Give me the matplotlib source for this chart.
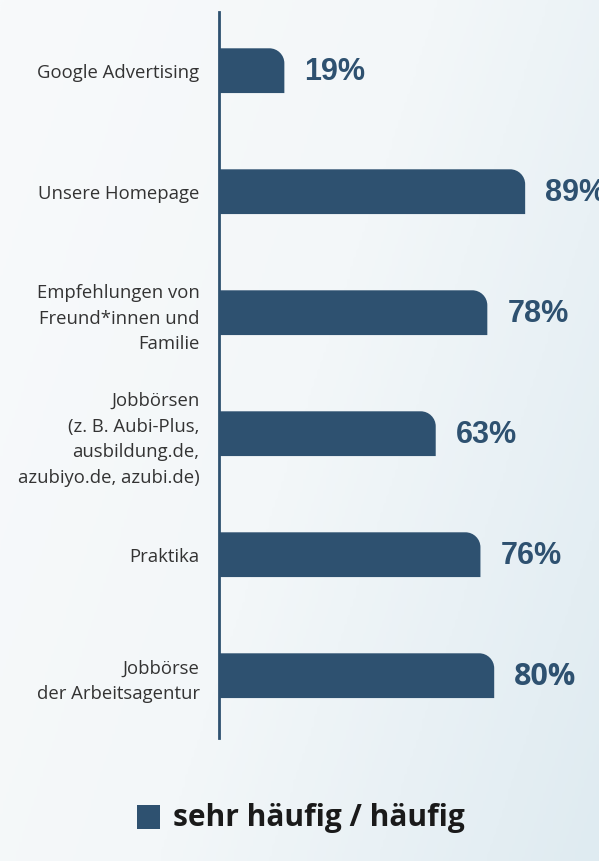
import numpy as np
import matplotlib.pyplot as plt
from matplotlib.path import Path
from matplotlib.patches import PathPatch
from matplotlib.colors import LinearSegmentedColormap

categories = [
    "Google Advertising",
    "Unsere Homepage",
    "Empfehlungen von\nFreund*innen und\nFamilie",
    "Jobbörsen\n(z. B. Aubi-Plus,\nausbildung.de,\nazubiyo.de, azubi.de)",
    "Praktika",
    "Jobbörse\nder Arbeitsagentur",
]
values = [19, 89, 78, 63, 76, 80]
value_labels = ["19%", "89%", "78%", "63%", "76%", "80%"]
legend_label = "sehr häufig / häufig"

BAR = "#2e5170"
W, H = 599, 861


def rounded_bar(ax, y, width, height, r_px=15):
    # bar with only the top right corner rounded, radius given in pixels
    x0, x1 = 0, width
    y0, y1 = y - height / 2, y + height / 2
    px_per_x = ax.bbox.width / (ax.get_xlim()[1] - ax.get_xlim()[0])
    px_per_y = ax.bbox.height / abs(ax.get_ylim()[1] - ax.get_ylim()[0])
    rx = r_px / px_per_x
    ry = r_px / px_per_y
    # y axis inverted: "top" on screen is y0
    k = 0.5523
    verts = [
        (x0, y1),
        (x0, y0),
        (x1 - rx, y0),
        (x1 - rx + k * rx, y0),
        (x1, y0 + ry - k * ry),
        (x1, y0 + ry),
        (x1, y1),
        (x0, y1),
    ]
    codes = [Path.MOVETO, Path.LINETO, Path.LINETO,
             Path.CURVE4, Path.CURVE4, Path.CURVE4,
             Path.LINETO, Path.CLOSEPOLY]
    ax.add_patch(PathPatch(Path(verts, codes), facecolor=BAR,
                           edgecolor="none", zorder=3))


fig = plt.figure(figsize=(W / 100, H / 100), dpi=100)

# background gradient
bg = fig.add_axes([0, 0, 1, 1], zorder=0)
xx, yy = np.meshgrid(np.linspace(0, 1, 200), np.linspace(0, 1, 200))
grad = 0.75 * xx + 0.35 * yy
cmap = LinearSegmentedColormap.from_list("bg", ["#f8fafb", "#f3f7f9", "#dfebf1"])
bg.imshow(grad, cmap=cmap, aspect="auto", extent=[0, 1, 0, 1], origin="upper")
bg.axis("off")

ax = fig.add_axes([219 / W, (H - 738) / H, 344 / W, 726 / H], zorder=1)
ax.patch.set_alpha(0)
ax.set_xlim(0, 100)
ax.set_ylim(5.515, -0.485)

y = np.arange(len(categories))
for yi, v, lab in zip(y, values, value_labels):
    rounded_bar(ax, yi, v, 0.37)
    fam = "Open Sans" if lab == "80%" else "Liberation Sans"
    ax.text(v + 5.8, yi + 0.01, lab, ha="left", va="center", fontsize=22,
            fontweight="bold", color=BAR, family=fam, zorder=4, clip_on=False)

ax.set_yticks(y)
ax.set_yticklabels(categories, fontsize=13.3, color="#333333",
                   family="Open Sans", linespacing=1.55, ha="right")
ax.tick_params(axis="y", length=0, pad=14)
ax.set_xticks([])
for s in ["top", "right", "bottom"]:
    ax.spines[s].set_visible(False)
ax.spines["left"].set_color(BAR)
ax.spines["left"].set_linewidth(2)

# legend
fig.patches.append(plt.Rectangle((137 / W, (H - 829) / H), 23 / W, 24 / H,
                                 facecolor=BAR, transform=fig.transFigure,
                                 figure=fig))
fig.text(173 / W, (H - 818) / H, legend_label, ha="left", va="center",
         fontsize=21.5, fontweight="bold", color="#1a1a1a", family="Open Sans")

fig.savefig("out.png", dpi=100)
